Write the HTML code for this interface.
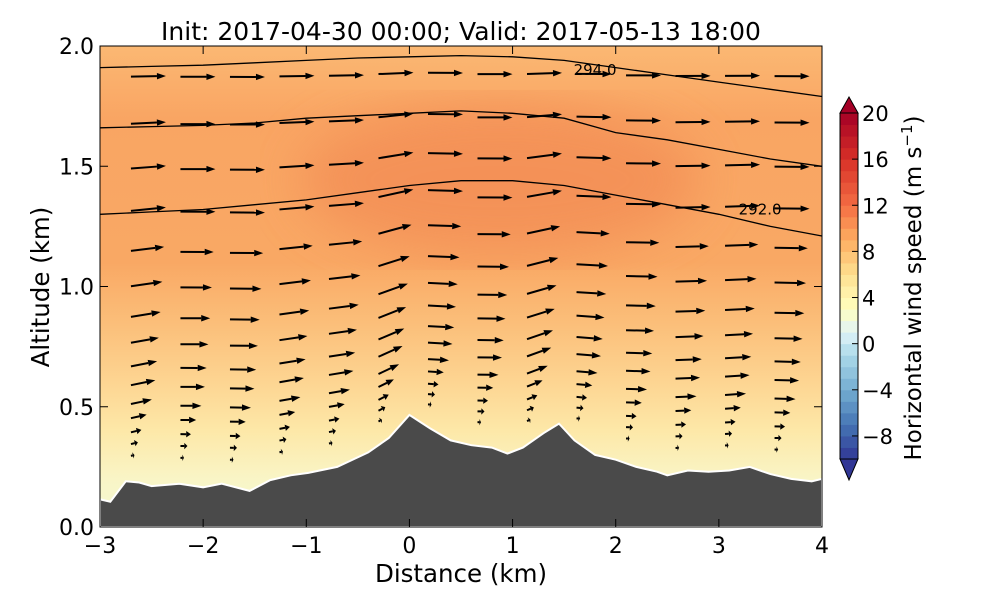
<!DOCTYPE html>
<html><head><meta charset="utf-8">
<style>
body{margin:0;background:#fff;}
svg text{font-family:"DejaVu Sans","Liberation Sans",sans-serif;}
</style></head>
<body>
<svg id="chart" width="1000" height="600" viewBox="0 0 1000 600" xmlns="http://www.w3.org/2000/svg">
<defs>
<linearGradient id="bg" x1="0" y1="0" x2="0" y2="1">
<stop offset="0" stop-color="#fbb873"/>
<stop offset="0.15" stop-color="#f9a563"/>
<stop offset="0.45" stop-color="#f9a864"/>
<stop offset="0.58" stop-color="#fbbf7a"/>
<stop offset="0.70" stop-color="#fdd592"/>
<stop offset="0.80" stop-color="#fde8a8"/>
<stop offset="0.90" stop-color="#f9f5c6"/>
<stop offset="1" stop-color="#f4f9d4"/>
</linearGradient>
<filter id="blur"><feGaussianBlur stdDeviation="25"/></filter>
<clipPath id="plotclip"><rect x="100" y="46" width="722" height="481"/></clipPath>
</defs>
<g id="plot" clip-path="url(#plotclip)">
<rect x="100" y="46" width="722" height="481" fill="url(#bg)"/>
<ellipse cx="500" cy="180" rx="200" ry="75" fill="#f38d55" opacity="0.8" filter="url(#blur)"/>
<g id="contours"></g>
<g id="quiver"></g>
<path id="terrain" fill="#4a4a4a" stroke="#fff" stroke-width="2"/>
</g>
<rect x="100" y="46" width="722" height="481" fill="none" stroke="#000" stroke-width="1"/>
<g id="axes"></g>
<text x="461" y="40" font-size="25" text-anchor="middle">Init: 2017-04-30 00:00; Valid: 2017-05-13 18:00</text>
<text x="461" y="582" font-size="24.5" text-anchor="middle">Distance (km)</text>
<text transform="translate(49,287) rotate(-90)" font-size="24.5" text-anchor="middle">Altitude (km)</text>
<g id="colorbar"></g>
<text transform="translate(921,288) rotate(-90)" font-size="23" text-anchor="middle">Horizontal wind speed (m s<tspan dy="-9" font-size="15">−1</tspan><tspan dy="9">)</tspan></text>
</svg>
<script>
const terrainX=[-3,-2.9,-2.75,-2.62,-2.5,-2.23,-2.0,-1.82,-1.55,-1.35,-1.15,-0.98,-0.7,-0.4,-0.2,0,0.2,0.4,0.6,0.8,0.95,1.1,1.3,1.45,1.6,1.8,2.0,2.2,2.4,2.5,2.7,2.9,3.1,3.3,3.5,3.7,3.9,4.0];
const terrainZ=[0.115,0.105,0.19,0.185,0.17,0.18,0.165,0.18,0.15,0.195,0.215,0.225,0.25,0.31,0.37,0.466,0.41,0.36,0.34,0.33,0.305,0.33,0.39,0.43,0.36,0.3,0.28,0.25,0.23,0.215,0.235,0.23,0.235,0.25,0.22,0.2,0.19,0.2];
const quiverX=[-2.7,-2.22,-1.74,-1.26,-0.78,-0.3,0.18,0.66,1.14,1.62,2.1,2.58,3.06,3.54,4.0];
const levelZ=[1.87,1.67,1.48,1.3,1.13,0.98,0.85,0.74,0.64,0.56,0.48,0.42,0.36,0.31,0.26];
const levelU=[10,10,10,10,9.5,9,8.5,8,7.5,7,6,4.5,3,2,1];
const contourX=[-3,-2.5,-2,-1.5,-1,-0.5,0,0.5,1,1.5,2,2.5,3,3.5,4];
const contourTop=[1.91,1.915,1.92,1.93,1.94,1.95,1.955,1.96,1.955,1.94,1.91,1.88,1.85,1.82,1.79];
const contourMid=[1.66,1.665,1.67,1.68,1.7,1.71,1.72,1.73,1.72,1.7,1.64,1.61,1.57,1.53,1.50];
const contourLow=[1.30,1.31,1.32,1.34,1.36,1.39,1.42,1.44,1.44,1.42,1.38,1.34,1.30,1.25,1.21];
const xTicks=[-3,-2,-1,0,1,2,3,4];
const yTicks=[0.0,0.5,1.0,1.5,2.0];
const cbTicks=[-8,-4,0,4,8,12,16,20];
const NS="http://www.w3.org/2000/svg";
const X=v=>100+(v+3)*722/7, Y=v=>527-v*240.5;
function mk(t,a,p){const e=document.createElementNS(NS,t);for(const k in a)e.setAttribute(k,a[k]);(p||document.getElementById('chart')).appendChild(e);return e;}
function terr(x){for(let i=0;i<terrainX.length-1;i++){if(x<=terrainX[i+1]){const f=(x-terrainX[i])/(terrainX[i+1]-terrainX[i]);return terrainZ[i]+f*(terrainZ[i+1]-terrainZ[i]);}}return terrainZ[terrainZ.length-1];}
let d='M'+X(-3)+','+Y(0)+' ';terrainX.forEach((x,i)=>d+='L'+X(x).toFixed(1)+','+Y(terrainZ[i]).toFixed(1)+' ');d+='L'+X(4)+','+Y(0)+'Z';
document.getElementById('terrain').setAttribute('d',d);
const cg=document.getElementById('contours');
[contourTop,contourMid,contourLow].forEach((arr,j)=>{let p='';contourX.forEach((x,i)=>p+=(i?'L':'M')+X(x).toFixed(1)+','+Y(arr[i]).toFixed(1));
const e=mk('path',{d:p,fill:'none',stroke:'#000','stroke-width':1.3},cg);

});
const l1=mk('text',{x:X(1.8),y:Y(1.88),'font-size':15,'text-anchor':'middle'},cg);l1.textContent='294.0';


const l2=mk('text',{x:X(3.4),y:Y(1.3),'font-size':15,'text-anchor':'middle'},cg);l2.textContent='292.0';


const qg=document.getElementById('quiver');
quiverX.forEach(x=>{const t=terr(x);let sl=(terr(x+0.15)-terr(x-0.15))/0.3;if(sl<0)sl*=0.15;
levelZ.forEach((zf,k)=>{const s=(zf-0.15)/1.85;const z=t+s*(2.0-t);if(z<t+0.04)return;
const L=levelU[k]*3.5;const ang=Math.atan(sl*0.8*(1-s));
const x0=X(x),y0=Y(z),dx=L*Math.cos(ang),dy=-L*Math.sin(ang)*2.3;
const g=mk('g',{},qg);


const len=Math.hypot(dx,dy),ux=dx/len,uy=dy/len,h=Math.min(9,len*0.45),w=3.2;
const bx=x0+dx-ux*h,by=y0+dy-uy*h;
mk('line',{x1:x0,y1:y0,x2:bx,y2:by,stroke:'#000','stroke-width':2},g);
mk('polygon',{points:`${x0+dx},${y0+dy} ${bx-uy*w},${by+ux*w} ${bx+uy*w},${by-ux*w}`,fill:'#000'},g);
});});
const ax=document.getElementById('axes');
xTicks.forEach(v=>{mk('line',{x1:X(v),x2:X(v),y1:527,y2:519,stroke:'#000'},ax);mk('line',{x1:X(v),x2:X(v),y1:46,y2:54,stroke:'#000'},ax);
const t=mk('text',{x:X(v),y:553,'font-size':22,'text-anchor':'middle'},ax);t.textContent=(v<0?'−'+(-v):v);

});
yTicks.forEach(v=>{mk('line',{x1:100,x2:108,y1:Y(v),y2:Y(v),stroke:'#000'},ax);mk('line',{x1:822,x2:814,y1:Y(v),y2:Y(v),stroke:'#000'},ax);
const t=mk('text',{x:94,y:Y(v)+8,'font-size':22,'text-anchor':'end'},ax);t.textContent=v.toFixed(1);

});
const cb=document.getElementById('colorbar');
const stops=[[-10,[49,54,149]],[-7,[69,117,180]],[-4,[116,173,209]],[-1,[171,217,233]],[1,[224,243,248]],[3,[255,255,191]],[6,[254,224,144]],[9,[253,174,97]],[12,[244,109,67]],[16,[215,48,39]],[20,[165,0,38]]];
function col(v){for(let i=0;i<stops.length-1;i++){if(v<=stops[i+1][0]){const f=(v-stops[i][0])/(stops[i+1][0]-stops[i][0]);return 'rgb('+stops[i][1].map((c,j)=>Math.round(c+f*(stops[i+1][1][j]-c))).join(',')+')';}}return 'rgb(165,0,38)';}
const CY=v=>459-(v+10)*(459-113)/30;
for(let v=-10;v<20;v++){const r=mk('rect',{x:840,y:CY(v+1),width:18,height:CY(v)-CY(v+1)+0.5,fill:col(v+0.5)},cb);

}
mk('polygon',{points:`840,113 858,113 849,97`,fill:'#a50026',stroke:'#000','stroke-width':1},cb);
mk('polygon',{points:`840,459 858,459 849,480`,fill:'#313695',stroke:'#000','stroke-width':1},cb);
mk('path',{d:'M840,113 L840,459 M858,113 L858,459',stroke:'#000',fill:'none'},cb);
cbTicks.forEach(v=>{mk('line',{x1:852,x2:858,y1:CY(v),y2:CY(v),stroke:'#000'},cb);
const t=mk('text',{x:862,y:CY(v)+8,'font-size':21},cb);t.textContent=(v<0?'−'+(-v):v);

});
</script>
</body></html>
